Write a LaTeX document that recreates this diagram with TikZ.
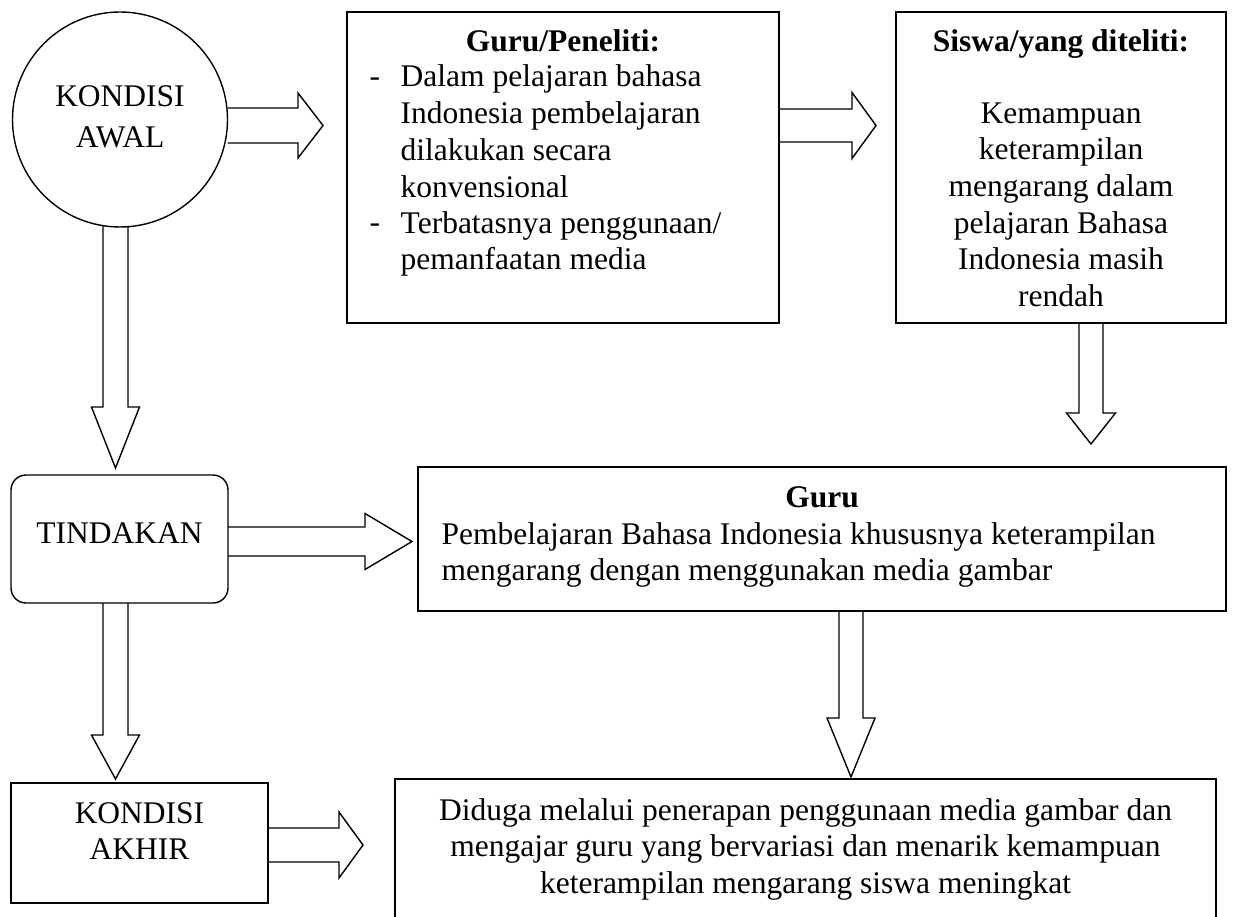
\documentclass[tikz,border=0pt]{standalone}
\usepackage{fontspec}
\setmainfont{Liberation Serif}
\usetikzlibrary{calc,backgrounds}
\newcommand\harrow[5]{% start, tip, half shaft, half head, head length
  \draw[blk] let \p1=(#1), \p2=(#2) in
    ({\x1},{\y1+#3}) -- ({\x2-#5},{\y1+#3}) -- ({\x2-#5},{\y1+#4}) -- ({\x2},{\y1})
    -- ({\x2-#5},{\y1-#4}) -- ({\x2-#5},{\y1-#3}) -- ({\x1},{\y1-#3});}
\newcommand\varrow[5]{% start, tip, half shaft, half head, head length (downwards)
  \draw[blk] let \p1=(#1), \p2=(#2) in
    ({\x1+#3},{\y1}) -- ({\x1+#3},{\y2+#5}) -- ({\x1+#4},{\y2+#5}) -- ({\x1},{\y2})
    -- ({\x1-#4},{\y2+#5}) -- ({\x1-#3},{\y2+#5}) -- ({\x1-#3},{\y1});}
\begin{document}
\begin{tikzpicture}[x=1pt,y=-1pt,line width=1.4pt,
  box/.style={draw,fill=white,rectangle,inner sep=0pt,outer sep=0pt,line width=1.4pt},
  txt/.style={inner sep=0pt,font=\fontsize{31.5}{36.7}\selectfont},
  blk/.style={draw=black,fill=white,line join=miter,line width=1.4pt}]
\useasboundingbox (0,0) rectangle (1238,917);
\clip (0,0) rectangle (1238,917);
% shapes
\node[box,circle,minimum size=215] (awal) at (120,119.5) {};
\node[box,minimum width=432,minimum height=311] (peneliti) at (563,167.5) {};
\node[box,minimum width=330,minimum height=311] (siswa) at (1061,167.5) {};
\node[box,rounded corners=15pt,minimum width=217,minimum height=128] (tindakan) at (119.5,539) {};
\node[box,minimum width=808,minimum height=144] (guru) at (822,539) {};
\node[box,minimum width=257,minimum height=120] (akhir) at (139.5,843) {};
\node[box,minimum width=821,minimum height=180] (hasil) at (805.5,869) {};
% texts (anchor base = baseline of the last line)
\node[txt,anchor=base] (tawal1) at (120,107) {KONDISI};
\node[txt,anchor=base] (tawal2) at (120,148) {AWAL};
\node[txt,anchor=base] (tpen0) at (563,52) {\textbf{Guru/Peneliti:}};
\node[txt,anchor=base west] (tpend1) at (369,87) {-};
\node[txt,anchor=base west] (tpend2) at (369,233) {-};
\node[txt,anchor=base west,align=left] (tpen1) at (400,197.1)
  {Dalam pelajaran bahasa\\Indonesia pembelajaran\\dilakukan secara\\konvensional};
\node[txt,anchor=base west,align=left] (tpen2) at (400,269.7)
  {Terbatasnya penggunaan/\\pemanfaatan media};
\node[txt,anchor=base] (tsis0) at (1061,52) {\textbf{Siswa/yang diteliti:}};
\node[txt,anchor=base,align=center] (tsis1) at (1061,306.5)
  {Kemampuan\\keterampilan\\mengarang dalam\\pelajaran Bahasa\\Indonesia masih\\rendah};
\node[txt,anchor=base] (ttind) at (119.5,543) {TINDAKAN};
\node[txt,anchor=base] (tguru0) at (822,507) {\textbf{Guru}};
\node[txt,anchor=base west,align=left] (tguru1) at (441,580.7)
  {Pembelajaran Bahasa Indonesia khususnya keterampilan\\mengarang dengan menggunakan media gambar};
\node[txt,anchor=base] (takhir1) at (139.5,823) {KONDISI};
\node[txt,anchor=base] (takhir2) at (139.5,859) {AKHIR};
\node[txt,anchor=base,align=center] (thasil) at (805.5,893.4)
  {Diduga melalui penerapan penggunaan media gambar dan\\mengajar guru yang bervariasi dan menarik kemampuan\\keterampilan mengarang siswa meningkat};
% arrow end points
\coordinate (a1s) at (awal.east |- 0,125.5);
\coordinate (a1t) at (323,125.5);
\coordinate (a2s) at (peneliti.east |- 0,125.5);
\coordinate (a2t) at (876,125.5);
\coordinate (a3s) at (115.5,222);
\coordinate (a3t) at (115.5,468);
\coordinate (a4s) at (siswa.south -| 1091,0);
\coordinate (a4t) at (1091,444);
\coordinate (a5s) at (tindakan.east |- 0,541.5);
\coordinate (a5t) at (412,541.5);
\coordinate (a6s) at (guru.south -| 851,0);
\coordinate (a6t) at (851,777);
\coordinate (a7s) at (tindakan.south -| 115.5,0);
\coordinate (a7t) at (115.5,779);
\coordinate (a8s) at (akhir.east |- 0,845);
\coordinate (a8t) at (363,845);
\begin{scope}[on background layer]
\harrow{a1s}{a1t}{17.5pt}{32.5pt}{25pt}
\harrow{a2s}{a2t}{16.5pt}{33pt}{24pt}
\varrow{a3s}{a3t}{12.5pt}{24pt}{61pt}
\varrow{a4s}{a4t}{12pt}{24.5pt}{31pt}
\harrow{a5s}{a5t}{14.5pt}{28pt}{47pt}
\varrow{a6s}{a6t}{12pt}{24pt}{59pt}
\varrow{a7s}{a7t}{12.5pt}{24pt}{44pt}
\harrow{a8s}{a8t}{17pt}{33pt}{24pt}
\end{scope}
\end{tikzpicture}
\end{document}
